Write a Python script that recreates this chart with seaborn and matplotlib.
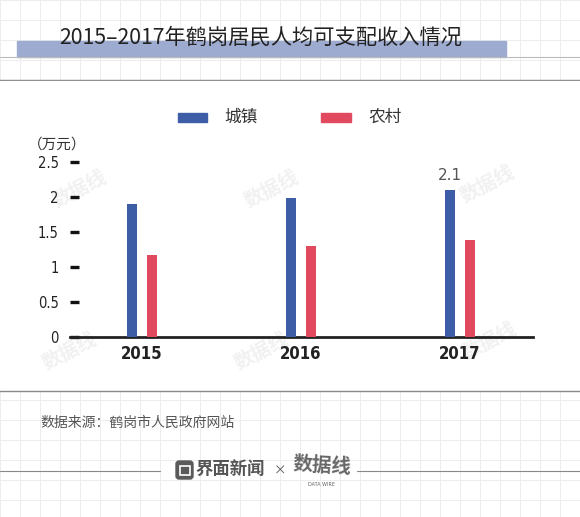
import pandas as pd
import numpy as np
import matplotlib
matplotlib.use("Agg")
import matplotlib.pyplot as plt
import seaborn as sns
from matplotlib.patches import Rectangle, FancyBboxPatch

# data (万元)
years = ["2015", "2016", "2017"]
urban = [1.90, 1.98, 2.10]
rural = [1.17, 1.30, 1.38]
series_names = ["城镇", "农村"]
ytick_vals = [0, 0.5, 1, 1.5, 2, 2.5]
ytick_labels = ["0", "0.5", "1", "1.5", "2", "2.5"]

sns.set_style("white")
plt.rcParams["font.family"] = ["Noto Sans CJK SC", "DejaVu Sans"]

blue = "#3d5ea6"
red = "#e14a5e"

df = pd.DataFrame({
    "year": years * 2,
    "value": urban + rural,
    "type": [series_names[0]] * 3 + [series_names[1]] * 3,
})

W, H = 580, 517
fig = plt.figure(figsize=(5.8, 5.17), dpi=100)

# background with grid in header / footer
bg = fig.add_axes([0, 0, 1, 1])
bg.set_xlim(0, W)
bg.set_ylim(H, 0)
bg.axis("off")
for x in np.arange(0, W + 1, 20):
    bg.plot([x, x], [0, 80], color="#ededed", lw=0.7, zorder=0)
    bg.plot([x, x], [391, H], color="#ededed", lw=0.7, zorder=0)
for y in np.arange(0, 81, 20):
    bg.plot([0, W], [y, y], color="#ededed", lw=0.7, zorder=0)
for y in np.arange(400, H + 1, 20):
    bg.plot([0, W], [y, y], color="#ededed", lw=0.7, zorder=0)

# title band
bg.add_patch(Rectangle((17, 41), 489, 16, color="#9eabd0", zorder=1))
bg.plot([0, W], [57, 57], color="#bbbbbb", lw=0.8, zorder=1)
bg.plot([0, W], [80, 80], color="#777777", lw=1.0, zorder=1)
bg.add_patch(Rectangle((0, 80.5), W, 310, color="white", zorder=1))
bg.plot([0, W], [391, 391], color="#888888", lw=1.0, zorder=2)
bg.text(261, 38, "2015–2017年鹤岗居民人均可支配收入情况", fontsize=15.3,
        ha="center", va="center", color="#222222", zorder=3)

# faint watermarks
for (wx, wy) in [(80, 190), (272, 190), (488, 185), (70, 352), (262, 352), (490, 342)]:
    bg.text(wx, wy, "数据线", fontsize=14, rotation=28, color="#f1f1f1",
            ha="center", va="center", zorder=2, fontweight="bold")

# footer
bg.text(40, 423, "数据来源：鹤岗市人民政府网站", fontsize=10, color="#555555",
        va="center", zorder=3)
bg.plot([0, 160], [471, 471], color="#888888", lw=0.8, zorder=3)
bg.plot([357, W], [471, 471], color="#888888", lw=0.8, zorder=3)
bg.add_patch(FancyBboxPatch((176, 461), 17, 18, boxstyle="round,pad=0,rounding_size=3",
                            color="#5a5a5a", zorder=3))
bg.add_patch(Rectangle((179.5, 465.5), 10, 9, fill=False, ec="white", lw=1.2, zorder=4))
bg.text(230, 470, "界面新闻", fontsize=12.5, fontweight="bold", color="#555555",
        ha="center", va="center", zorder=3)
bg.text(280, 471, "×", fontsize=9, color="#555555", ha="center", va="center", zorder=3)
bg.text(322, 466, "数据线", fontsize=14, fontweight="bold", color="#666666",
        ha="center", va="center", zorder=3, rotation=-3)
bg.text(322, 485, "DATA WIRE", fontsize=3.5, color="#666666", ha="center",
        va="center", zorder=3, family="DejaVu Sans")

# main chart
ax = fig.add_axes([70 / W, 1 - 337 / H, (533 - 70) / W, (337 - 162) / H])
ax.patch.set_alpha(0)
sns.barplot(data=df, x="year", y="value", hue="type", palette=[blue, red],
            width=0.25, gap=0.5, saturation=1, errorbar=None, linewidth=0,
            ax=ax, legend=False, zorder=3)
ax.set_xlim(-0.453, 2.459)
ax.set_ylim(0, 2.5)
ax.set_xlabel("")
ax.set_ylabel("")
for s in ["top", "right", "left"]:
    ax.spines[s].set_visible(False)
ax.spines["bottom"].set_color("#222222")
ax.spines["bottom"].set_linewidth(2)
ax.spines["bottom"].set_clip_on(False)

ax.set_yticks(ytick_vals)
ax.set_yticklabels(ytick_labels, family="DejaVu Sans", fontstretch="condensed",
                   fontsize=10.5, color="#222222")
ax.tick_params(axis="y", direction="in", length=6.5, width=2.4, color="#111111", pad=8,
               left=True)
ax.tick_params(axis="x", bottom=False, length=0, pad=6)
for lbl in ax.get_xticklabels():
    lbl.set_family("DejaVu Sans")
    lbl.set_fontstretch("condensed")
    lbl.set_fontweight("bold")
    lbl.set_fontsize(12)
    lbl.set_color("#222222")

# value label on 2017 urban
ax.annotate(f"{urban[2]:.1f}", xy=(2 - 0.0625, urban[2]), xytext=(0, 5),
            textcoords="offset points", ha="center", va="bottom",
            fontsize=11, color="#555555", family="DejaVu Sans")

# unit label
bg.text(57, 145, "（万元）", fontsize=10.5, color="#333333", ha="center", va="center",
        zorder=3)

# legend
bg.add_patch(Rectangle((178, 113), 29, 9, color=blue, zorder=3))
bg.text(224, 117, series_names[0], fontsize=12, color="#333333", va="center", zorder=3)
bg.add_patch(Rectangle((321, 113), 30, 9, color=red, zorder=3))
bg.text(368, 117, series_names[1], fontsize=12, color="#333333", va="center", zorder=3)

fig.savefig("out.png", dpi=100)
